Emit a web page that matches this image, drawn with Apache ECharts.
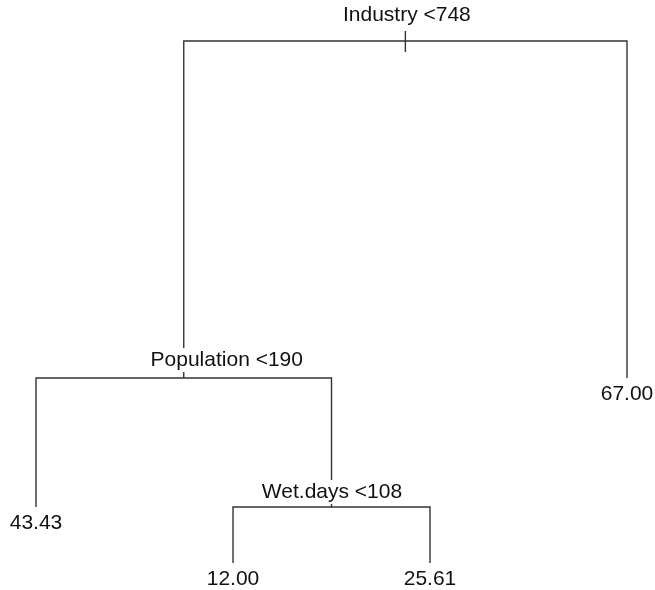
<!DOCTYPE html>
<html><head><meta charset="utf-8">
<script src="https://cdn.jsdelivr.net/npm/echarts@6/dist/echarts.min.js"></script>
<style>html,body{margin:0;padding:0;background:#fff}#c{width:655px;height:590px}</style>
</head><body><div id="c"></div>
<script>
// Terminal nodes (leaves), left to right
const leafValues = [43.43, 12.00, 25.61, 67.00];
const leafOrder = [1, 2, 3, 4];
const leafDev = [5.6, 0, 0, 18.5];
// Split nodes
const splitVars = ['Industry', 'Population', 'Wet.days'];
const splitCuts = [748, 190, 108];
const splitDev = [52.2, 18.5, 5.6];
const splitLeft = ['s1', 'l0', 'l1'];
const splitRight = ['l3', 's2', 'l2'];

function nodeX(ref) {
  const i = +ref.slice(1);
  if (ref[0] === 'l') return leafOrder[i];
  return (nodeX(splitLeft[i]) + nodeX(splitRight[i])) / 2;
}
function nodeY(ref) {
  const i = +ref.slice(1);
  return ref[0] === 'l' ? leafDev[i] : splitDev[i];
}

const branchData = splitVars.map((v, i) => [
  nodeX('s' + i), splitDev[i],
  nodeX(splitLeft[i]), nodeY(splitLeft[i]),
  nodeX(splitRight[i]), nodeY(splitRight[i])
]);
const labelData = [];
splitVars.forEach((v, i) => labelData.push([nodeX('s' + i), splitDev[i], 0, i]));
leafValues.forEach((v, i) => labelData.push([leafOrder[i], leafDev[i], 1, i]));

// style-only offsets (pixels)
const splitDx = [1.5, 43, 0.5];
const splitDy = [-26, -18, -15];
const leafDy = 16;
const FONT = '"Liberation Sans", Arial, Helvetica, sans-serif';
const LINE = '#333';

const chart = echarts.init(document.getElementById('c'), null, {renderer: 'canvas'});
chart.setOption({
  animation: false,
  backgroundColor: '#fff',
  grid: {left: 36, right: 28, top: 41, bottom: 27},
  xAxis: {type: 'value', min: 1, max: 4, show: false},
  yAxis: {type: 'value', min: 0, max: 52.2, show: false},
  series: [
    {
      type: 'custom',
      z: 1,
      encode: {x: [0, 2, 4], y: [1, 3, 5]},
      data: branchData,
      renderItem: function (params, api) {
        const p = api.coord([api.value(0), api.value(1)]);
        const l = api.coord([api.value(2), api.value(3)]);
        const r = api.coord([api.value(4), api.value(5)]);
        const ch = [{
          type: 'polyline',
          shape: {points: [[l[0], l[1]], [l[0], p[1]], [r[0], p[1]], [r[0], r[1]]]},
          style: {stroke: LINE, lineWidth: 1.4, fill: 'none'}
        }];
        if (params.dataIndex === 0) {
          ch.push({type: 'line', shape: {x1: p[0], y1: p[1] - 10, x2: p[0], y2: p[1] + 11},
                   style: {stroke: LINE, lineWidth: 1.4}});
        }
        return {type: 'group', children: ch};
      }
    },
    {
      type: 'custom',
      z: 2,
      encode: {x: 0, y: 1},
      data: labelData,
      renderItem: function (params, api) {
        const c = api.coord([api.value(0), api.value(1)]);
        const kind = api.value(2), i = api.value(3);
        let text, x, y, bg;
        if (kind === 0) {
          text = splitVars[i] + ' <' + splitCuts[i];
          x = c[0] + splitDx[i]; y = c[1] + splitDy[i]; bg = '#fff';
        } else {
          text = leafValues[i].toFixed(2);
          x = c[0]; y = c[1] + leafDy; bg = 'transparent';
        }
        return {
          type: 'text', x: x, y: y,
          style: {text: text, fill: '#111', fontSize: 21, fontFamily: FONT,
                  align: 'center', verticalAlign: 'middle',
                  backgroundColor: bg, padding: [1, 2], lineHeight: 22}
        };
      }
    }
  ]
});
</script>
</body></html>
